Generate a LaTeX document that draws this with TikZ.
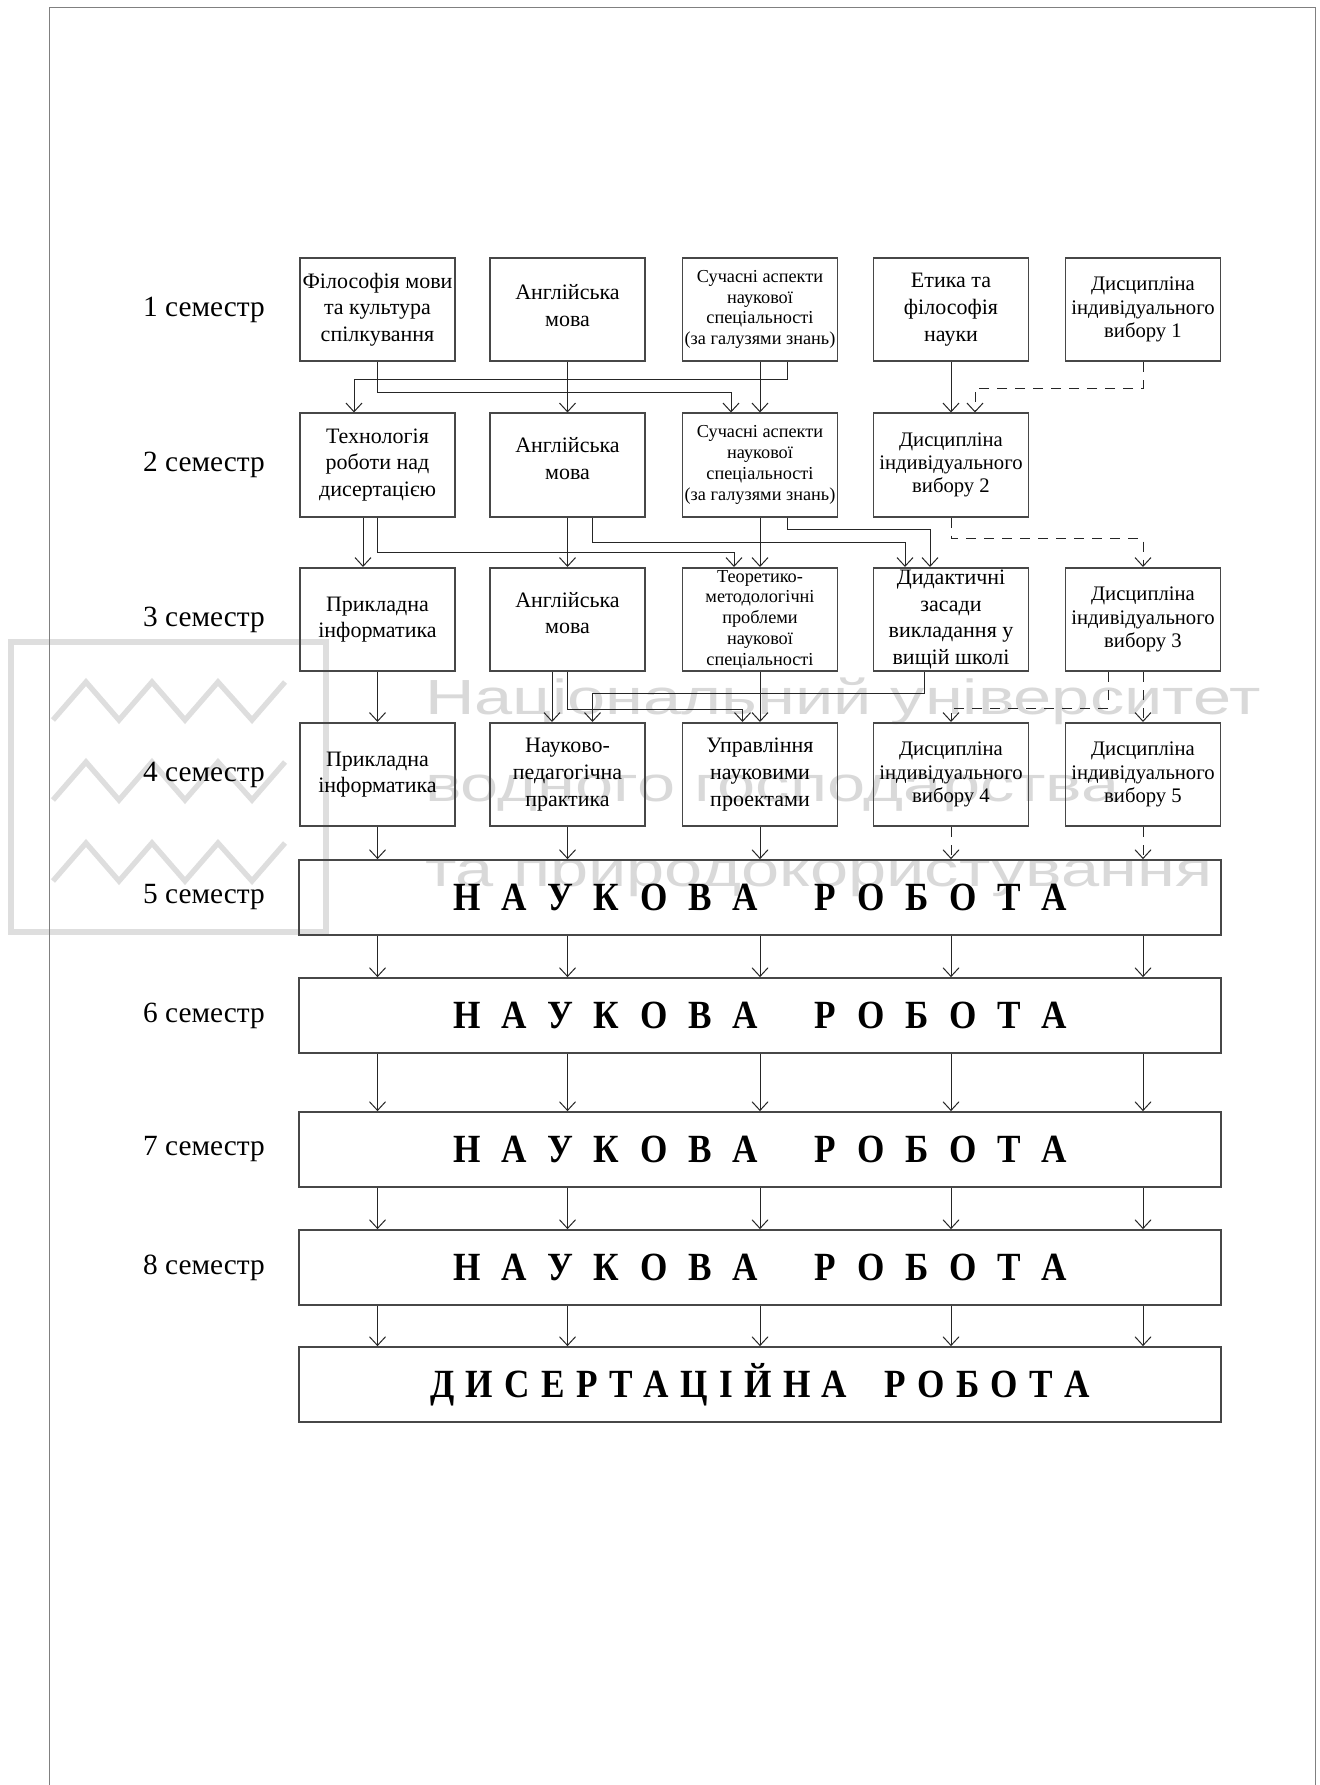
\documentclass[tikz,border=0pt]{standalone}
\usepackage{fontspec}
\setmainfont{Liberation Serif}
\newfontfamily\wmfont[FakeStretch=1.39]{Liberation Sans}
\newfontfamily\bigfont[FakeStretch=0.88]{Liberation Serif}
\usetikzlibrary{arrows.meta,calc}
\makeatletter
\newcommand\trk[2]{\@tfor\trktok:=#2\do{\trktok\kern#1}\unkern}
\makeatother
\tikzset{
  box/.style={draw=black!72, line width=1.3pt, minimum width=116.25pt, minimum height=77.5pt,
    align=center, inner sep=0pt, font=\fontsize{16.5}{20}\selectfont},
  sbox/.style={box, font=\fontsize{13.7}{15.6}\selectfont},
  dbox/.style={box, font=\fontsize{15.5}{17.5}\selectfont},
  bigbox/.style={draw=black!72, line width=1.3pt, minimum width=691.5pt, minimum height=56.25pt,
    inner sep=0pt, font=\bigfont\bfseries\fontsize{30}{32}\selectfont},
  sem/.style={font=\fontsize{22}{24}\selectfont, inner sep=0pt},
  arr/.style={draw=black!85, line width=0.75pt, -{Straight Barb[length=6.5pt,width=12pt]}},
  darr/.style={arr, dash pattern=on 7.5pt off 6pt},
  wmline/.style={draw=black!13, line width=4pt},
  wmtext/.style={text=black!15, font=\wmfont\fontsize{37}{40}\selectfont, inner sep=0pt, anchor=base west}
}
\newcommand\nauk{\trk{15.5pt}{НАУКОВА}\hspace{43pt}\trk{15.5pt}{РОБОТА}}
\begin{document}
\begin{tikzpicture}[x=0.75pt,y=-0.75pt]
\fill[white] (0,0) rectangle (1320,1785);
\useasboundingbox (0,0) rectangle (1320,1785);
% watermark
\draw[wmline, line width=5pt] (11,642) rectangle (326,932);
\foreach \dy in {0,80,161}{
  \draw[wmline, line join=miter] (53,720+\dy) -- (86,682+\dy) -- (119,720+\dy) -- (152,682+\dy)
    -- (185,720+\dy) -- (218,682+\dy) -- (252,720+\dy) -- (285,682+\dy);
}
\node[wmtext] (wm1) at (425,714) {Національний університет};
\node[wmtext] (wm2) at (425,801) {водного господарства};
\node[wmtext] (wm3) at (425,886) {та природокористування};
% frame
\draw[black!50, line width=0.75pt] (49,1785) -- (49,7) -- (1315,7) -- (1315,1785);
% semester labels
\node[sem] (s1) at (204,309.5) {1 семестр};
\node[sem] (s2) at (204,465) {2 семестр};
\node[sem] (s3) at (204,619.5) {3 семестр};
\node[sem] (s4) at (204,774.5) {4 семестр};
\node[sem] (s5) at (204,897.5) {5 семестр};
\node[sem] (s6) at (204,1015.5) {6 семестр};
\node[sem] (s7) at (204,1149.5) {7 семестр};
\node[sem] (s8) at (204,1267.5) {8 семестр};
% row 1
\node[box] (r1c1) at (377.5,309.5) {Філософія мови\\та культура\\спілкування};
\node[box] (r1c2) at (567.5,309.5) {Англійська\\мова\\[-14pt]};
\node[sbox] (r1c3) at (760,309.5) {Сучасні аспекти\\наукової\\спеціальності\\(за галузями знань)};
\node[box] (r1c4) at (951,309.5) {Етика та\\філософія\\науки};
\node[dbox] (r1c5) at (1143,309.5) {Дисципліна\\індивідуального\\вибору 1};
% row 2
\node[box] (r2c1) at (377.5,465) {Технологія\\роботи над\\дисертацією};
\node[box] (r2c2) at (567.5,465) {Англійська\\мова\\[-10pt]};
\node[sbox] (r2c3) at (760,465) {Сучасні аспекти\\наукової\\спеціальності\\(за галузями знань)};
\node[dbox] (r2c4) at (951,465) {Дисципліна\\індивідуального\\вибору 2};
% row 3
\node[box] (r3c1) at (377.5,619.5) {Прикладна\\інформатика};
\node[box] (r3c2) at (567.5,619.5) {Англійська\\мова\\[-10pt]};
\node[sbox] (r3c3) at (760,619.5) {Теоретико-\\методологічні\\проблеми\\наукової\\спеціальності};
\node[box] (r3c4) at (951,619.5) {Дидактичні\\засади\\викладання у\\вищій школі};
\node[dbox] (r3c5) at (1143,619.5) {Дисципліна\\індивідуального\\вибору 3};
% row 4
\node[box] (r4c1) at (377.5,774.5) {Прикладна\\інформатика};
\node[box] (r4c2) at (567.5,774.5) {Науково-\\педагогічна\\практика};
\node[box] (r4c3) at (760,774.5) {Управління\\науковими\\проектами};
\node[dbox] (r4c4) at (951,774.5) {Дисципліна\\індивідуального\\вибору 4};
\node[dbox] (r4c5) at (1143,774.5) {Дисципліна\\індивідуального\\вибору 5};
% big boxes
\node[bigbox] (b5) at (760,897.5) {\nauk};
\node[bigbox] (b6) at (760,1015.5) {\nauk};
\node[bigbox] (b7) at (760,1149.5) {\nauk};
\node[bigbox] (b8) at (760,1267.5) {\nauk};
\node[bigbox] (d) at (760,1384.5) {\trk{8.5pt}{ДИСЕРТАЦІЙНА}\hspace{28pt}\trk{8.5pt}{РОБОТА}};
% row1 -> row2
\draw[arr] (r1c1.south) -- ++(0,30) -| ($(r2c3.north)+(-29,0)$);
\draw[arr] (r1c2.south) -- (r2c2.north);
\draw[arr] (r1c3.south) -- (r2c3.north);
\draw[arr] ($(r1c3.south)+(27,0)$) -- ++(0,17) -| ($(r2c1.north)+(-23.5,0)$);
\draw[arr] (r1c4.south) -- (r2c4.north);
\draw[darr] (r1c5.south) -- ++(0,26) -| ($(r2c4.north)+(24,0)$);
% row2 -> row3
\draw[arr] ($(r2c1.south)+(-14.5,0)$) -- ($(r3c1.north)+(-14.5,0)$);
\draw[arr] (r2c1.south) -- ++(0,35) -| ($(r3c3.north)+(-26,0)$);
\draw[arr] (r2c2.south) -- (r3c2.north);
\draw[arr] ($(r2c2.south)+(25,0)$) -- ++(0,25) -| ($(r3c4.north)+(-46,0)$);
\draw[arr] (r2c3.south) -- (r3c3.north);
\draw[arr] ($(r2c3.south)+(27,0)$) -- ++(0,12) -| ($(r3c4.north)+(-21,0)$);
\draw[darr] (r2c4.south) -- ++(0,21) -| (r3c5.north);
% row3 -> row4
\draw[arr] (r3c1.south) -- (r4c1.north);
\draw[arr] ($(r3c2.south)+(-15.5,0)$) -- ($(r4c2.north)+(-15.5,0)$);
\draw[arr] (r3c2.south) -- ++(0,37) -| ($(r4c3.north)+(-17.5,0)$);
\draw[arr] ($(r3c4.south)+(-27,0)$) -- ++(0,21) -| ($(r4c2.north)+(25,0)$);
\draw[arr] (r3c3.south) -- (r4c3.north);
\draw[darr] ($(r3c5.south)+(-35,0)$) -- ++(0,36) -| (r4c4.north);
\draw[darr] (r3c5.south) -- (r4c5.north);
% row4 -> big box 5
\draw[arr] (r4c1.south) -- (b5.north -| r4c1);
\draw[arr] (r4c2.south) -- (b5.north -| r4c2);
\draw[arr] (r4c3.south) -- (b5.north -| r4c3);
\draw[darr] (r4c4.south) -- (b5.north -| r4c4);
\draw[darr] (r4c5.south) -- (b5.north -| r4c5);
% big boxes chain
\foreach \a/\b in {b5/b6,b6/b7,b7/b8,b8/d}{
  \foreach \c in {r4c1,r4c2,r4c3,r4c4,r4c5}{
    \draw[arr] (\a.south -| \c) -- (\b.north -| \c);
  }
}
\end{tikzpicture}
\end{document}
